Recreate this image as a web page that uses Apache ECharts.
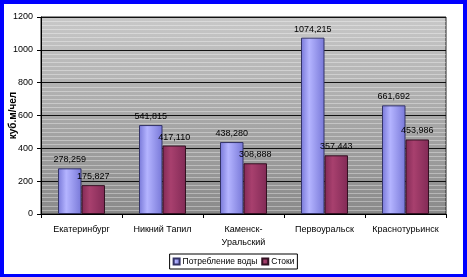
<!DOCTYPE html>
<html><head><meta charset="utf-8">
<script src="https://cdn.jsdelivr.net/npm/echarts@6/dist/echarts.min.js"></script>
<style>
html,body{margin:0;padding:0;background:#fff;}
#wrap{position:absolute;left:0;top:0;width:459px;height:270px;border:4px solid #0000ff;border-bottom-width:3px;background:#fff;}
#c{width:459px;height:270px;}
</style></head><body>
<div id="wrap"><div id="c"></div></div>
<script>
const categories = ['Екатеринбург', 'Никний Тапил', 'Каменск-\nУральский', 'Первоуральск', 'Краснотурьинск'];
const water = [278.259, 541.815, 438.280, 1074.215, 661.692];
const drain = [175.827, 417.110, 308.888, 357.443, 453.986];
const seriesNames = ['Потребление воды', 'Стоки'];
const yTicks = [0, 200, 400, 600, 800, 1000, 1200];

const fmt = v => v.toFixed(3).replace('.', ',');
const chart = echarts.init(document.getElementById('c'), null, {renderer: 'canvas'});
const font = 'Liberation Sans, Arial, sans-serif';
function hgrad(edge, mid) {
  return new echarts.graphic.LinearGradient(0, 0, 1, 0, [
    {offset: 0, color: edge}, {offset: 0.35, color: mid}, {offset: 1, color: edge}
  ]);
}
chart.setOption({
  animation: false,
  textStyle: {fontFamily: font},
  grid: {left: 37, top: 13, right: 17, bottom: 60, containLabel: false, outerBoundsMode: 'none',
    show: true, borderColor: '#222', borderWidth: 1,
    backgroundColor: new echarts.graphic.LinearGradient(0, 0, 0, 1, [
      {offset: 0, color: '#c8c8c8'}, {offset: 1, color: '#8a8a8a'}
    ])},
  legend: {
    bottom: 5, left: 'center', itemWidth: 6, itemHeight: 6, itemGap: 4,
    borderColor: '#000', borderWidth: 1, padding: [3, 3, 3, 3],
    textStyle: {fontSize: 8.5, color: '#000', fontFamily: font, padding: [0, 0, 0, -2]},
    icon: 'rect',
    data: seriesNames
  },
  xAxis: {
    type: 'category', data: categories,
    axisLine: {lineStyle: {color: '#000'}},
    axisTick: {show: true, inside: false, length: 4, lineStyle: {color: '#000'}},
    axisLabel: {fontSize: 9, color: '#000', margin: 9, lineHeight: 13, interval: 0}
  },
  yAxis: {
    type: 'value', min: 0, max: 1200, interval: 200,
    name: 'куб.м/чел', nameLocation: 'middle', nameGap: 23, nameRotate: 90, nameMoveOverlap: false,
    nameTextStyle: {fontSize: 10, fontWeight: 'bold', color: '#000'},
    axisLine: {show: true, lineStyle: {color: '#000'}},
    axisTick: {show: true, length: 4, lineStyle: {color: '#000'}},
    axisLabel: {fontSize: 9, color: '#000', margin: 8,
      formatter: v => yTicks.includes(v) ? String(v) : ''},
    splitLine: {lineStyle: {color: '#111', width: 1}},
    minorTick: {show: false, splitNumber: 8},
    minorSplitLine: {show: true, lineStyle: {color: 'rgba(255,255,255,0.35)', width: 1}}
  },
  series: [
    {name: seriesNames[0], type: 'bar', data: water, barGap: '0%', barCategoryGap: '42%',
      itemStyle: {color: hgrad('#7878d8', '#b4b4ff'), borderColor: '#333366', borderWidth: 1},
      label: {show: true, position: 'top', fontSize: 9, color: '#000', distance: 4,
        formatter: p => fmt(p.value)}},
    {name: seriesNames[1], type: 'bar', data: drain,
      itemStyle: {color: hgrad('#822a56', '#a8406e'), borderColor: '#331122', borderWidth: 1},
      label: {show: true, position: 'top', fontSize: 9, color: '#000', distance: 4,
        formatter: p => fmt(p.value)}}
  ]
});
</script></body></html>
